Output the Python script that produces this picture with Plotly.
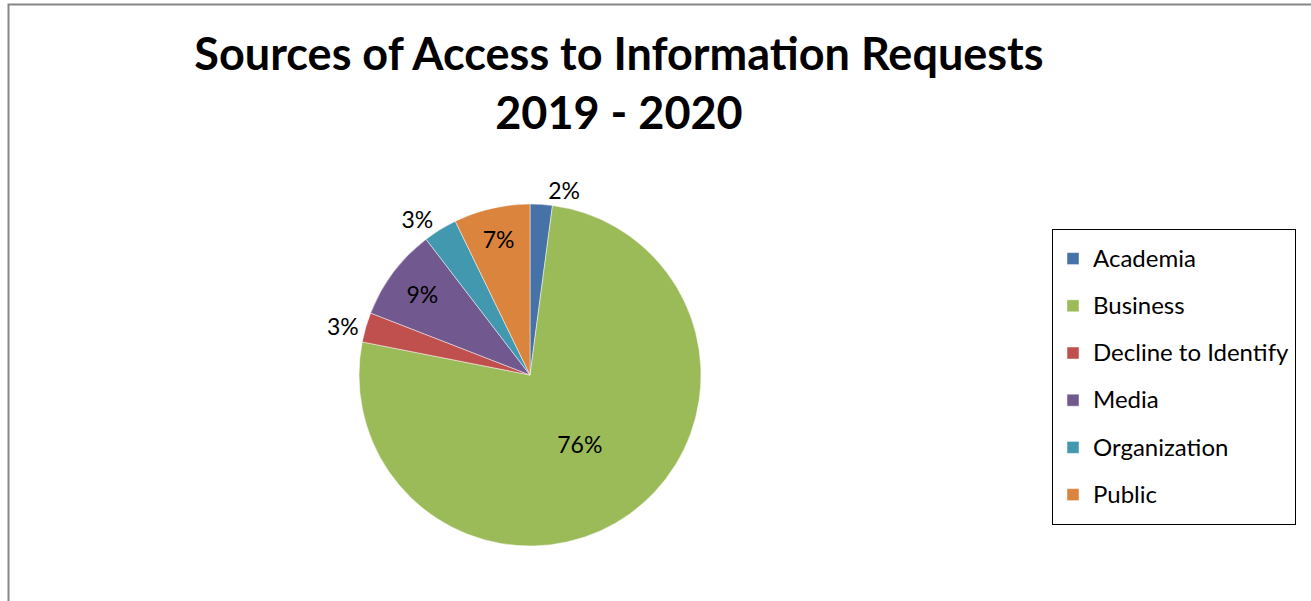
import plotly.graph_objects as go

categories = ["Academia", "Business", "Decline to Identify", "Media", "Organization", "Public"]
shares = [2.1, 76.0, 2.8, 8.7, 3.2, 7.2]
colors = ["#4672A8", "#9BBB59", "#C0504D", "#71588F", "#4198AF", "#DB843D"]
text_positions = ["outside", "inside", "outside", "inside", "outside", "inside"]
title_lines = ["Sources of Access to Information Requests", "2019 - 2020"]

W, H = 1311, 601
FONT = "Lato, 'Open Sans', sans-serif"

legend_labels = [
    f"<span style='font-size:24px;baseline-shift:5px'>{c}</span>" for c in categories
]

cx, cy, r = 530, 375, 171

fig = go.Figure(
    go.Pie(
        labels=legend_labels,
        values=shares,
        sort=False,
        direction="clockwise",
        rotation=0,
        marker=dict(colors=colors, line=dict(color="rgba(255,255,255,0.6)", width=0.8)),
        texttemplate="%{percent:.0%}",
        textposition=text_positions,
        textfont=dict(family=FONT, size=23, color="#000000"),
        insidetextorientation="horizontal",
        hoverinfo="skip",
        domain=dict(
            x=[(cx - r) / W, (cx + r) / W],
            y=[(H - cy - r) / H, (H - cy + r) / H],
        ),
    )
)

fig.update_layout(
    width=W,
    height=H,
    margin=dict(l=0, r=0, t=0, b=0),
    paper_bgcolor="white",
    plot_bgcolor="white",
    font=dict(family=FONT, color="#000000"),
    title=dict(
        text="<b>" + "<br>".join(title_lines) + "</b>",
        x=619 / W,
        xanchor="center",
        y=1 - 70 / H,
        yanchor="top",
        font=dict(family=FONT, size=45, color="#000000"),
    ),
    legend=dict(
        x=1052 / W,
        xanchor="left",
        y=1 - 229 / H,
        yanchor="top",
        bgcolor="white",
        bordercolor="#000000",
        borderwidth=1,
        font=dict(family=FONT, size=34, color="#000000"),
        traceorder="normal",
    ),
    shapes=[
        dict(
            type="rect",
            xref="paper",
            yref="paper",
            x0=8.5 / W,
            x1=1.2,
            y0=-0.2,
            y1=1 - 4.5 / H,
            line=dict(color="#878787", width=2),
            fillcolor="rgba(0,0,0,0)",
            layer="above",
        )
    ],
)

fig.write_html("out.html")
